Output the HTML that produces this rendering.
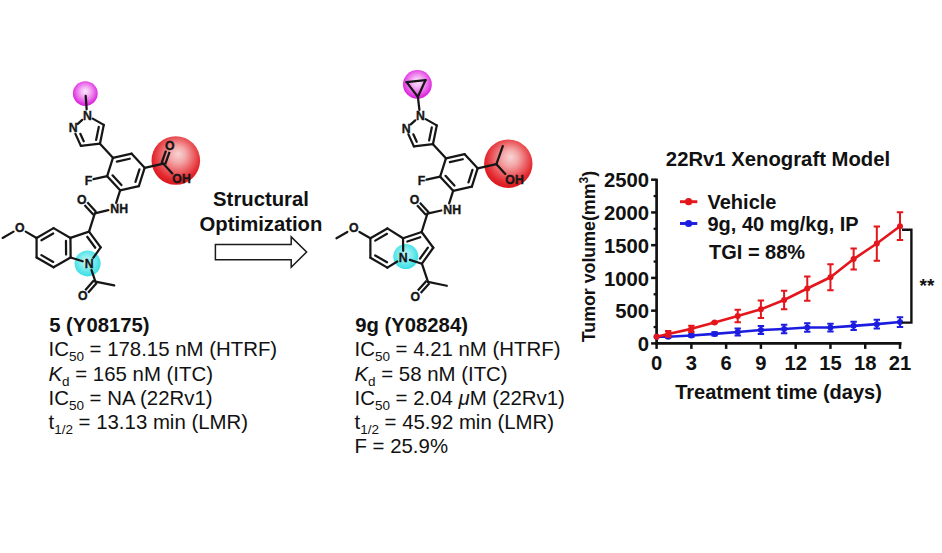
<!DOCTYPE html>
<html><head><meta charset="utf-8"><style>
html,body{margin:0;padding:0;background:#fff;}
body{width:942px;height:553px;overflow:hidden;position:relative;}
svg{position:absolute;left:0;top:0;}
text{font-family:"Liberation Sans",sans-serif;}
</style></head><body>
<svg width="942" height="553" viewBox="0 0 942 553">
<defs>
<radialGradient id="gm" cx="0.5" cy="0.45" r="0.55" fx="0.5" fy="0.4"><stop offset="0" stop-color="#fbe6fb"/><stop offset="0.3" stop-color="#f5b8f5"/><stop offset="0.65" stop-color="#ea6cea"/><stop offset="0.88" stop-color="#e032e0"/><stop offset="1" stop-color="#d81ed8"/></radialGradient>
<radialGradient id="gr" cx="0.52" cy="0.42" r="0.56" fx="0.55" fy="0.36"><stop offset="0" stop-color="#f8d4d4"/><stop offset="0.3" stop-color="#f3a8a8"/><stop offset="0.62" stop-color="#eb5e62"/><stop offset="0.86" stop-color="#e32a30"/><stop offset="1" stop-color="#dc1a20"/></radialGradient>
<radialGradient id="gc" cx="0.48" cy="0.45" r="0.56" fx="0.46" fy="0.42"><stop offset="0" stop-color="#c8f7f7"/><stop offset="0.35" stop-color="#98eff1"/><stop offset="0.7" stop-color="#5ee6ea"/><stop offset="1" stop-color="#36dee6"/></radialGradient>
</defs>
<circle cx="85.30" cy="93.60" r="12.40" fill="url(#gm)"/>
<circle cx="175.80" cy="160.50" r="24.30" fill="url(#gr)"/>
<circle cx="87.60" cy="263.40" r="13.00" fill="url(#gc)"/>
<line x1="112.93" y1="157.84" x2="131.67" y2="153.69" stroke="#161616" stroke-width="2.25" stroke-linecap="round"/>
<line x1="131.67" y1="153.69" x2="144.64" y2="167.84" stroke="#161616" stroke-width="2.25" stroke-linecap="round"/>
<line x1="144.64" y1="167.84" x2="138.87" y2="186.16" stroke="#161616" stroke-width="2.25" stroke-linecap="round"/>
<line x1="138.87" y1="186.16" x2="120.13" y2="190.31" stroke="#161616" stroke-width="2.25" stroke-linecap="round"/>
<line x1="120.13" y1="190.31" x2="107.16" y2="176.16" stroke="#161616" stroke-width="2.25" stroke-linecap="round"/>
<line x1="107.16" y1="176.16" x2="112.93" y2="157.84" stroke="#161616" stroke-width="2.25" stroke-linecap="round"/>
<line x1="116.83" y1="161.59" x2="129.72" y2="158.73" stroke="#161616" stroke-width="2.25" stroke-linecap="round"/>
<line x1="139.45" y1="169.35" x2="135.48" y2="181.94" stroke="#161616" stroke-width="2.25" stroke-linecap="round"/>
<line x1="121.42" y1="185.06" x2="112.50" y2="175.33" stroke="#161616" stroke-width="2.25" stroke-linecap="round"/>
<line x1="112.93" y1="157.84" x2="99.96" y2="143.69" stroke="#161616" stroke-width="2.25" stroke-linecap="round"/>
<line x1="99.96" y1="143.69" x2="103.79" y2="124.87" stroke="#161616" stroke-width="2.25" stroke-linecap="round"/>
<line x1="96.15" y1="139.85" x2="98.78" y2="126.92" stroke="#161616" stroke-width="2.25" stroke-linecap="round"/>
<line x1="92.73" y1="118.62" x2="103.79" y2="124.87" stroke="#161616" stroke-width="2.25" stroke-linecap="round"/>
<line x1="82.21" y1="119.88" x2="77.78" y2="123.93" stroke="#161616" stroke-width="2.25" stroke-linecap="round"/>
<line x1="75.41" y1="133.85" x2="80.88" y2="145.86" stroke="#161616" stroke-width="2.25" stroke-linecap="round"/>
<line x1="80.33" y1="133.80" x2="83.73" y2="141.27" stroke="#161616" stroke-width="2.25" stroke-linecap="round"/>
<line x1="80.88" y1="145.86" x2="99.96" y2="143.69" stroke="#161616" stroke-width="2.25" stroke-linecap="round"/>
<text x="87.37" y="119.85" font-size="12.3" font-weight="bold" text-anchor="middle" fill="#161616" stroke="#161616" stroke-width="0.35" >N</text>
<text x="73.32" y="132.22" font-size="12.3" font-weight="bold" text-anchor="middle" fill="#161616" stroke="#161616" stroke-width="0.35" >N</text>
<line x1="86.66" y1="109.43" x2="85.71" y2="95.97" stroke="#161616" stroke-width="2.25" stroke-linecap="round"/>
<line x1="144.64" y1="167.84" x2="163.39" y2="163.69" stroke="#161616" stroke-width="2.25" stroke-linecap="round"/>
<line x1="161.60" y1="163.05" x2="166.00" y2="150.61" stroke="#161616" stroke-width="2.25" stroke-linecap="butt"/>
<line x1="165.18" y1="164.32" x2="169.59" y2="151.88" stroke="#161616" stroke-width="2.25" stroke-linecap="butt"/>
<text x="169.80" y="150.02" font-size="12.3" font-weight="bold" text-anchor="middle" fill="#161616" stroke="#161616" stroke-width="0.35" >O</text>
<line x1="163.39" y1="163.69" x2="172.31" y2="173.42" stroke="#161616" stroke-width="2.25" stroke-linecap="round"/>
<text x="181.56" y="183.07" font-size="12.3" font-weight="bold" text-anchor="middle" fill="#161616" stroke="#161616" stroke-width="0.35" >OH</text>
<line x1="107.16" y1="176.16" x2="93.49" y2="179.19" stroke="#161616" stroke-width="2.25" stroke-linecap="round"/>
<text x="88.41" y="184.74" font-size="12.3" font-weight="bold" text-anchor="middle" fill="#161616" stroke="#161616" stroke-width="0.35" >F</text>
<line x1="120.13" y1="190.31" x2="116.16" y2="202.90" stroke="#161616" stroke-width="2.25" stroke-linecap="round"/>
<text x="119.25" y="213.05" font-size="12.3" font-weight="bold" text-anchor="middle" fill="#161616" stroke="#161616" stroke-width="0.35" >NH</text>
<line x1="108.33" y1="210.09" x2="94.81" y2="213.38" stroke="#161616" stroke-width="2.25" stroke-linecap="round"/>
<line x1="93.41" y1="214.66" x2="84.49" y2="204.93" stroke="#161616" stroke-width="2.25" stroke-linecap="butt"/>
<line x1="96.21" y1="212.09" x2="87.29" y2="202.36" stroke="#161616" stroke-width="2.25" stroke-linecap="butt"/>
<text x="81.84" y="203.65" font-size="12.3" font-weight="bold" text-anchor="middle" fill="#161616" stroke="#161616" stroke-width="0.35" >O</text>
<line x1="94.81" y1="213.38" x2="89.03" y2="231.69" stroke="#161616" stroke-width="2.25" stroke-linecap="round"/>
<line x1="89.03" y1="231.69" x2="100.69" y2="247.45" stroke="#161616" stroke-width="2.25" stroke-linecap="round"/>
<line x1="87.20" y1="236.78" x2="95.29" y2="247.71" stroke="#161616" stroke-width="2.25" stroke-linecap="round"/>
<line x1="100.69" y1="247.45" x2="93.38" y2="257.70" stroke="#161616" stroke-width="2.25" stroke-linecap="round"/>
<line x1="70.62" y1="257.51" x2="82.64" y2="261.30" stroke="#161616" stroke-width="2.25" stroke-linecap="round"/>
<line x1="70.45" y1="237.91" x2="89.03" y2="231.69" stroke="#161616" stroke-width="2.25" stroke-linecap="round"/>
<line x1="70.45" y1="237.91" x2="70.62" y2="257.51" stroke="#161616" stroke-width="2.25" stroke-linecap="round"/>
<line x1="65.97" y1="240.95" x2="66.09" y2="254.55" stroke="#161616" stroke-width="2.25" stroke-linecap="round"/>
<line x1="70.62" y1="257.51" x2="53.56" y2="267.31" stroke="#161616" stroke-width="2.25" stroke-linecap="round"/>
<line x1="53.56" y1="267.31" x2="36.58" y2="257.51" stroke="#161616" stroke-width="2.25" stroke-linecap="round"/>
<line x1="53.21" y1="261.91" x2="41.43" y2="255.11" stroke="#161616" stroke-width="2.25" stroke-linecap="round"/>
<line x1="36.58" y1="257.51" x2="36.58" y2="237.91" stroke="#161616" stroke-width="2.25" stroke-linecap="round"/>
<line x1="36.58" y1="237.91" x2="53.56" y2="228.11" stroke="#161616" stroke-width="2.25" stroke-linecap="round"/>
<line x1="41.43" y1="240.31" x2="53.21" y2="233.51" stroke="#161616" stroke-width="2.25" stroke-linecap="round"/>
<line x1="53.56" y1="228.11" x2="70.45" y2="237.91" stroke="#161616" stroke-width="2.25" stroke-linecap="round"/>
<text x="89.31" y="267.83" font-size="12.3" font-weight="bold" text-anchor="middle" fill="#161616" stroke="#161616" stroke-width="0.35" >N</text>
<line x1="36.58" y1="237.91" x2="25.67" y2="231.61" stroke="#161616" stroke-width="2.25" stroke-linecap="round"/>
<text x="19.91" y="232.14" font-size="12.3" font-weight="bold" text-anchor="middle" fill="#161616" stroke="#161616" stroke-width="0.35" >O</text>
<line x1="13.55" y1="231.61" x2="2.64" y2="237.91" stroke="#161616" stroke-width="2.25" stroke-linecap="round"/>
<line x1="91.53" y1="270.04" x2="95.40" y2="281.61" stroke="#161616" stroke-width="2.25" stroke-linecap="round"/>
<line x1="96.83" y1="282.87" x2="88.08" y2="292.76" stroke="#161616" stroke-width="2.25" stroke-linecap="butt"/>
<line x1="93.98" y1="280.35" x2="85.23" y2="290.24" stroke="#161616" stroke-width="2.25" stroke-linecap="butt"/>
<text x="82.68" y="300.42" font-size="12.3" font-weight="bold" text-anchor="middle" fill="#161616" stroke="#161616" stroke-width="0.35" >O</text>
<line x1="95.40" y1="281.61" x2="114.22" y2="285.44" stroke="#161616" stroke-width="2.25" stroke-linecap="round"/>
<circle cx="417.40" cy="84.40" r="14.40" fill="url(#gm)"/>
<circle cx="508.30" cy="163.70" r="24.20" fill="url(#gr)"/>
<circle cx="405.80" cy="256.60" r="12.50" fill="url(#gc)"/>
<line x1="445.93" y1="158.34" x2="464.67" y2="154.19" stroke="#161616" stroke-width="2.25" stroke-linecap="round"/>
<line x1="464.67" y1="154.19" x2="477.64" y2="168.34" stroke="#161616" stroke-width="2.25" stroke-linecap="round"/>
<line x1="477.64" y1="168.34" x2="471.87" y2="186.66" stroke="#161616" stroke-width="2.25" stroke-linecap="round"/>
<line x1="471.87" y1="186.66" x2="453.13" y2="190.81" stroke="#161616" stroke-width="2.25" stroke-linecap="round"/>
<line x1="453.13" y1="190.81" x2="440.16" y2="176.66" stroke="#161616" stroke-width="2.25" stroke-linecap="round"/>
<line x1="440.16" y1="176.66" x2="445.93" y2="158.34" stroke="#161616" stroke-width="2.25" stroke-linecap="round"/>
<line x1="449.83" y1="162.09" x2="462.72" y2="159.23" stroke="#161616" stroke-width="2.25" stroke-linecap="round"/>
<line x1="472.45" y1="169.85" x2="468.48" y2="182.44" stroke="#161616" stroke-width="2.25" stroke-linecap="round"/>
<line x1="454.42" y1="185.56" x2="445.50" y2="175.83" stroke="#161616" stroke-width="2.25" stroke-linecap="round"/>
<line x1="445.93" y1="158.34" x2="432.96" y2="144.19" stroke="#161616" stroke-width="2.25" stroke-linecap="round"/>
<line x1="432.96" y1="144.19" x2="436.79" y2="125.37" stroke="#161616" stroke-width="2.25" stroke-linecap="round"/>
<line x1="429.15" y1="140.35" x2="431.78" y2="127.42" stroke="#161616" stroke-width="2.25" stroke-linecap="round"/>
<line x1="425.73" y1="119.12" x2="436.79" y2="125.37" stroke="#161616" stroke-width="2.25" stroke-linecap="round"/>
<line x1="415.21" y1="120.38" x2="410.78" y2="124.43" stroke="#161616" stroke-width="2.25" stroke-linecap="round"/>
<line x1="408.41" y1="134.35" x2="413.88" y2="146.36" stroke="#161616" stroke-width="2.25" stroke-linecap="round"/>
<line x1="413.33" y1="134.30" x2="416.73" y2="141.77" stroke="#161616" stroke-width="2.25" stroke-linecap="round"/>
<line x1="413.88" y1="146.36" x2="432.96" y2="144.19" stroke="#161616" stroke-width="2.25" stroke-linecap="round"/>
<text x="420.37" y="120.35" font-size="12.3" font-weight="bold" text-anchor="middle" fill="#161616" stroke="#161616" stroke-width="0.35" >N</text>
<text x="406.32" y="132.72" font-size="12.3" font-weight="bold" text-anchor="middle" fill="#161616" stroke="#161616" stroke-width="0.35" >N</text>
<line x1="419.40" y1="109.96" x2="417.90" y2="96.84" stroke="#161616" stroke-width="2.25" stroke-linecap="round"/>
<line x1="417.90" y1="96.84" x2="406.58" y2="82.09" stroke="#161616" stroke-width="2.25" stroke-linecap="round"/>
<line x1="406.58" y1="82.09" x2="425.53" y2="80.10" stroke="#161616" stroke-width="2.25" stroke-linecap="round"/>
<line x1="425.53" y1="80.10" x2="417.90" y2="96.84" stroke="#161616" stroke-width="2.25" stroke-linecap="round"/>
<line x1="477.64" y1="168.34" x2="496.39" y2="164.19" stroke="#161616" stroke-width="2.25" stroke-linecap="round"/>
<line x1="496.39" y1="164.19" x2="502.80" y2="146.09" stroke="#161616" stroke-width="2.25" stroke-linecap="round"/>
<line x1="496.39" y1="164.19" x2="505.31" y2="173.92" stroke="#161616" stroke-width="2.25" stroke-linecap="round"/>
<text x="514.56" y="183.57" font-size="12.3" font-weight="bold" text-anchor="middle" fill="#161616" stroke="#161616" stroke-width="0.35" >OH</text>
<line x1="440.16" y1="176.66" x2="426.49" y2="179.69" stroke="#161616" stroke-width="2.25" stroke-linecap="round"/>
<text x="421.41" y="185.24" font-size="12.3" font-weight="bold" text-anchor="middle" fill="#161616" stroke="#161616" stroke-width="0.35" >F</text>
<line x1="453.13" y1="190.81" x2="449.16" y2="203.40" stroke="#161616" stroke-width="2.25" stroke-linecap="round"/>
<text x="452.25" y="213.55" font-size="12.3" font-weight="bold" text-anchor="middle" fill="#161616" stroke="#161616" stroke-width="0.35" >NH</text>
<line x1="441.31" y1="210.50" x2="427.41" y2="213.68" stroke="#161616" stroke-width="2.25" stroke-linecap="round"/>
<line x1="426.01" y1="214.96" x2="417.09" y2="205.23" stroke="#161616" stroke-width="2.25" stroke-linecap="butt"/>
<line x1="428.81" y1="212.39" x2="419.89" y2="202.66" stroke="#161616" stroke-width="2.25" stroke-linecap="butt"/>
<text x="414.44" y="203.95" font-size="12.3" font-weight="bold" text-anchor="middle" fill="#161616" stroke="#161616" stroke-width="0.35" >O</text>
<line x1="427.41" y1="213.68" x2="421.63" y2="231.99" stroke="#161616" stroke-width="2.25" stroke-linecap="round"/>
<line x1="421.63" y1="231.99" x2="433.29" y2="247.75" stroke="#161616" stroke-width="2.25" stroke-linecap="round"/>
<line x1="433.29" y1="247.75" x2="421.91" y2="263.70" stroke="#161616" stroke-width="2.25" stroke-linecap="round"/>
<line x1="427.89" y1="247.57" x2="419.99" y2="258.65" stroke="#161616" stroke-width="2.25" stroke-linecap="round"/>
<line x1="421.91" y1="263.70" x2="409.89" y2="259.91" stroke="#161616" stroke-width="2.25" stroke-linecap="round"/>
<line x1="403.05" y1="238.21" x2="403.16" y2="250.81" stroke="#161616" stroke-width="2.25" stroke-linecap="round"/>
<line x1="403.05" y1="238.21" x2="421.63" y2="231.99" stroke="#161616" stroke-width="2.25" stroke-linecap="round"/>
<line x1="407.32" y1="241.52" x2="420.22" y2="237.21" stroke="#161616" stroke-width="2.25" stroke-linecap="round"/>
<line x1="397.26" y1="261.49" x2="387.36" y2="267.61" stroke="#161616" stroke-width="2.25" stroke-linecap="round"/>
<line x1="387.36" y1="267.61" x2="370.38" y2="257.81" stroke="#161616" stroke-width="2.25" stroke-linecap="round"/>
<line x1="387.01" y1="262.21" x2="375.23" y2="255.41" stroke="#161616" stroke-width="2.25" stroke-linecap="round"/>
<line x1="370.38" y1="257.81" x2="370.38" y2="238.21" stroke="#161616" stroke-width="2.25" stroke-linecap="round"/>
<line x1="370.38" y1="238.21" x2="387.36" y2="228.41" stroke="#161616" stroke-width="2.25" stroke-linecap="round"/>
<line x1="375.23" y1="240.61" x2="387.01" y2="233.81" stroke="#161616" stroke-width="2.25" stroke-linecap="round"/>
<line x1="387.36" y1="228.41" x2="403.05" y2="238.21" stroke="#161616" stroke-width="2.25" stroke-linecap="round"/>
<text x="403.22" y="262.24" font-size="12.3" font-weight="bold" text-anchor="middle" fill="#161616" stroke="#161616" stroke-width="0.35" >N</text>
<line x1="370.38" y1="238.21" x2="359.47" y2="231.91" stroke="#161616" stroke-width="2.25" stroke-linecap="round"/>
<text x="353.71" y="232.44" font-size="12.3" font-weight="bold" text-anchor="middle" fill="#161616" stroke="#161616" stroke-width="0.35" >O</text>
<line x1="347.35" y1="231.91" x2="336.44" y2="238.21" stroke="#161616" stroke-width="2.25" stroke-linecap="round"/>
<line x1="421.91" y1="263.70" x2="428.00" y2="281.91" stroke="#161616" stroke-width="2.25" stroke-linecap="round"/>
<line x1="429.43" y1="283.17" x2="420.68" y2="293.06" stroke="#161616" stroke-width="2.25" stroke-linecap="butt"/>
<line x1="426.58" y1="280.65" x2="417.83" y2="290.54" stroke="#161616" stroke-width="2.25" stroke-linecap="butt"/>
<text x="415.28" y="300.72" font-size="12.3" font-weight="bold" text-anchor="middle" fill="#161616" stroke="#161616" stroke-width="0.35" >O</text>
<line x1="428.00" y1="281.91" x2="446.82" y2="285.74" stroke="#161616" stroke-width="2.25" stroke-linecap="round"/>
<text x="49.2" y="331.9" font-size="20.3" font-weight="bold" text-anchor="start" fill="#111" >5 (Y08175)</text>
<text x="48.5" y="356.2" font-size="20.4" fill="#111">IC<tspan font-size="13.5" dy="5">50</tspan><tspan dy="-5"> = 178.15 nM (HTRF)</tspan></text>
<text x="48.5" y="380.5" font-size="20.4" fill="#111"><tspan font-style="italic">K</tspan><tspan font-size="13.5" dy="5">d</tspan><tspan dy="-5"> = 165 nM (ITC)</tspan></text>
<text x="48.5" y="404.8" font-size="20.4" fill="#111">IC<tspan font-size="13.5" dy="5">50</tspan><tspan dy="-5"> = NA (22Rv1)</tspan></text>
<text x="48.5" y="428.9" font-size="20.4" fill="#111">t<tspan font-size="13.5" dy="5">1/2</tspan><tspan dy="-5"> = 13.13 min (LMR)</tspan></text>
<text x="355.2" y="331.9" font-size="20.3" font-weight="bold" text-anchor="start" fill="#111" >9g (Y08284)</text>
<text x="354.5" y="356.2" font-size="20.4" fill="#111">IC<tspan font-size="13.5" dy="5">50</tspan><tspan dy="-5"> = 4.21 nM (HTRF)</tspan></text>
<text x="354.5" y="380.5" font-size="20.4" fill="#111"><tspan font-style="italic">K</tspan><tspan font-size="13.5" dy="5">d</tspan><tspan dy="-5"> = 58 nM (ITC)</tspan></text>
<text x="354.5" y="404.8" font-size="20.4" fill="#111">IC<tspan font-size="13.5" dy="5">50</tspan><tspan dy="-5"> = 2.04 <tspan font-style="italic">μ</tspan>M (22Rv1)</tspan></text>
<text x="354.5" y="428.9" font-size="20.4" fill="#111">t<tspan font-size="13.5" dy="5">1/2</tspan><tspan dy="-5"> = 45.92 min (LMR)</tspan></text>
<text x="354.5" y="452.5" font-size="20.4" fill="#111">F = 25.9%</text>
<text x="261" y="206.2" font-size="20.3" font-weight="bold" text-anchor="middle" fill="#111" >Structural</text>
<text x="261" y="231.2" font-size="20.3" font-weight="bold" text-anchor="middle" fill="#111" >Optimization</text>
<path d="M215.4,244.5 H291.2 V236.9 L306.6,252 L291.2,267.3 V259.7 H215.4 Z" fill="#fff" stroke="#1a1a1a" stroke-width="1.5"/>
<line x1="656.6" y1="178.7" x2="656.6" y2="344.7" stroke="#111" stroke-width="2.7"/>
<line x1="655.3000000000001" y1="343.4" x2="901.5" y2="343.4" stroke="#111" stroke-width="2.6"/>
<line x1="651.1" y1="343.40" x2="656.6" y2="343.40" stroke="#111" stroke-width="2.5"/>
<text x="649" y="351.00" font-size="20.3" font-weight="bold" text-anchor="end" fill="#111" >0</text>
<line x1="651.1" y1="310.66" x2="656.6" y2="310.66" stroke="#111" stroke-width="2.5"/>
<text x="649" y="318.26" font-size="20.3" font-weight="bold" text-anchor="end" fill="#111" >500</text>
<line x1="651.1" y1="277.92" x2="656.6" y2="277.92" stroke="#111" stroke-width="2.5"/>
<text x="649" y="285.52" font-size="20.3" font-weight="bold" text-anchor="end" fill="#111" >1000</text>
<line x1="651.1" y1="245.18" x2="656.6" y2="245.18" stroke="#111" stroke-width="2.5"/>
<text x="649" y="252.78" font-size="20.3" font-weight="bold" text-anchor="end" fill="#111" >1500</text>
<line x1="651.1" y1="212.44" x2="656.6" y2="212.44" stroke="#111" stroke-width="2.5"/>
<text x="649" y="220.04" font-size="20.3" font-weight="bold" text-anchor="end" fill="#111" >2000</text>
<line x1="651.1" y1="179.70" x2="656.6" y2="179.70" stroke="#111" stroke-width="2.5"/>
<text x="649" y="187.30" font-size="20.3" font-weight="bold" text-anchor="end" fill="#111" >2500</text>
<line x1="653.6" y1="327.03" x2="656.6" y2="327.03" stroke="#111" stroke-width="2.3"/>
<line x1="653.6" y1="294.29" x2="656.6" y2="294.29" stroke="#111" stroke-width="2.3"/>
<line x1="653.6" y1="261.55" x2="656.6" y2="261.55" stroke="#111" stroke-width="2.3"/>
<line x1="653.6" y1="228.81" x2="656.6" y2="228.81" stroke="#111" stroke-width="2.3"/>
<line x1="653.6" y1="196.07" x2="656.6" y2="196.07" stroke="#111" stroke-width="2.3"/>
<line x1="656.60" y1="343.4" x2="656.60" y2="348.9" stroke="#111" stroke-width="2.5"/>
<text x="656.60" y="369.6" font-size="20.2" font-weight="bold" text-anchor="middle" fill="#111" >0</text>
<line x1="691.37" y1="343.4" x2="691.37" y2="348.9" stroke="#111" stroke-width="2.5"/>
<text x="691.37" y="369.6" font-size="20.2" font-weight="bold" text-anchor="middle" fill="#111" >3</text>
<line x1="726.14" y1="343.4" x2="726.14" y2="348.9" stroke="#111" stroke-width="2.5"/>
<text x="726.14" y="369.6" font-size="20.2" font-weight="bold" text-anchor="middle" fill="#111" >6</text>
<line x1="760.91" y1="343.4" x2="760.91" y2="348.9" stroke="#111" stroke-width="2.5"/>
<text x="760.91" y="369.6" font-size="20.2" font-weight="bold" text-anchor="middle" fill="#111" >9</text>
<line x1="795.69" y1="343.4" x2="795.69" y2="348.9" stroke="#111" stroke-width="2.5"/>
<text x="795.69" y="369.6" font-size="20.2" font-weight="bold" text-anchor="middle" fill="#111" >12</text>
<line x1="830.46" y1="343.4" x2="830.46" y2="348.9" stroke="#111" stroke-width="2.5"/>
<text x="830.46" y="369.6" font-size="20.2" font-weight="bold" text-anchor="middle" fill="#111" >15</text>
<line x1="865.23" y1="343.4" x2="865.23" y2="348.9" stroke="#111" stroke-width="2.5"/>
<text x="865.23" y="369.6" font-size="20.2" font-weight="bold" text-anchor="middle" fill="#111" >18</text>
<line x1="900.00" y1="343.4" x2="900.00" y2="348.9" stroke="#111" stroke-width="2.5"/>
<text x="900.00" y="369.6" font-size="20.2" font-weight="bold" text-anchor="middle" fill="#111" >21</text>
<text x="778.5" y="399.3" font-size="20" font-weight="bold" text-anchor="middle" fill="#111" >Treatment time (days)</text>
<text x="778" y="166" font-size="20.3" font-weight="bold" text-anchor="middle" fill="#111" >22Rv1 Xenograft Model</text>
<text transform="translate(595.3,256.6) rotate(-90)" font-size="17.8" font-weight="bold" text-anchor="middle" fill="#111">Tumor volume(mm<tspan font-size="12" dy="-7.5">3</tspan><tspan dy="7.5">)</tspan></text>
<polyline points="656.60,336.79 668.19,336.79 691.37,335.54 714.55,333.91 737.73,332.01 760.91,329.98 784.10,328.99 807.28,327.55 830.46,327.55 853.64,325.85 876.82,324.15 900.00,322.05" fill="none" stroke="#1c1ce0" stroke-width="2.6" stroke-linejoin="round"/>
<circle cx="656.60" cy="336.79" r="3.0" fill="#1c1ce0"/>
<path d="M668.19,335.80 V337.77 M664.99,335.80 h6.4 M664.99,337.77 h6.4" stroke="#1c1ce0" stroke-width="2" fill="none"/>
<circle cx="668.19" cy="336.79" r="3.0" fill="#1c1ce0"/>
<path d="M691.37,334.23 V336.85 M688.17,334.23 h6.4 M688.17,336.85 h6.4" stroke="#1c1ce0" stroke-width="2" fill="none"/>
<circle cx="691.37" cy="335.54" r="3.0" fill="#1c1ce0"/>
<path d="M714.55,332.27 V335.54 M711.35,332.27 h6.4 M711.35,335.54 h6.4" stroke="#1c1ce0" stroke-width="2" fill="none"/>
<circle cx="714.55" cy="333.91" r="3.0" fill="#1c1ce0"/>
<path d="M737.73,328.41 V335.61 M734.53,328.41 h6.4 M734.53,335.61 h6.4" stroke="#1c1ce0" stroke-width="2" fill="none"/>
<circle cx="737.73" cy="332.01" r="3.0" fill="#1c1ce0"/>
<path d="M760.91,326.05 V333.91 M757.71,326.05 h6.4 M757.71,333.91 h6.4" stroke="#1c1ce0" stroke-width="2" fill="none"/>
<circle cx="760.91" cy="329.98" r="3.0" fill="#1c1ce0"/>
<path d="M784.10,324.74 V333.25 M780.90,324.74 h6.4 M780.90,333.25 h6.4" stroke="#1c1ce0" stroke-width="2" fill="none"/>
<circle cx="784.10" cy="328.99" r="3.0" fill="#1c1ce0"/>
<path d="M807.28,323.30 V331.81 M804.08,323.30 h6.4 M804.08,331.81 h6.4" stroke="#1c1ce0" stroke-width="2" fill="none"/>
<circle cx="807.28" cy="327.55" r="3.0" fill="#1c1ce0"/>
<path d="M830.46,323.63 V331.48 M827.26,323.63 h6.4 M827.26,331.48 h6.4" stroke="#1c1ce0" stroke-width="2" fill="none"/>
<circle cx="830.46" cy="327.55" r="3.0" fill="#1c1ce0"/>
<path d="M853.64,321.79 V329.91 M850.44,321.79 h6.4 M850.44,329.91 h6.4" stroke="#1c1ce0" stroke-width="2" fill="none"/>
<circle cx="853.64" cy="325.85" r="3.0" fill="#1c1ce0"/>
<path d="M876.82,319.70 V328.60 M873.62,319.70 h6.4 M873.62,328.60 h6.4" stroke="#1c1ce0" stroke-width="2" fill="none"/>
<circle cx="876.82" cy="324.15" r="3.0" fill="#1c1ce0"/>
<path d="M900.00,317.14 V326.96 M896.80,317.14 h6.4 M896.80,326.96 h6.4" stroke="#1c1ce0" stroke-width="2" fill="none"/>
<circle cx="900.00" cy="322.05" r="3.0" fill="#1c1ce0"/>
<polyline points="656.60,336.79 668.19,333.91 691.37,328.86 714.55,322.58 737.73,316.09 760.91,309.22 784.10,299.99 807.28,288.53 830.46,277.27 853.64,259.06 876.82,243.54 900.00,226.19" fill="none" stroke="#e4161c" stroke-width="2.6" stroke-linejoin="round"/>
<circle cx="656.60" cy="336.79" r="3.0" fill="#e4161c"/>
<path d="M668.19,330.96 V336.85 M664.99,330.96 h6.4 M664.99,336.85 h6.4" stroke="#e4161c" stroke-width="2" fill="none"/>
<circle cx="668.19" cy="333.91" r="3.0" fill="#e4161c"/>
<path d="M691.37,325.72 V332.01 M688.17,325.72 h6.4 M688.17,332.01 h6.4" stroke="#e4161c" stroke-width="2" fill="none"/>
<circle cx="691.37" cy="328.86" r="3.0" fill="#e4161c"/>
<path d="M714.55,321.92 V323.23 M711.35,321.92 h6.4 M711.35,323.23 h6.4" stroke="#e4161c" stroke-width="2" fill="none"/>
<circle cx="714.55" cy="322.58" r="3.0" fill="#e4161c"/>
<path d="M737.73,309.87 V322.32 M734.53,309.87 h6.4 M734.53,322.32 h6.4" stroke="#e4161c" stroke-width="2" fill="none"/>
<circle cx="737.73" cy="316.09" r="3.0" fill="#e4161c"/>
<path d="M760.91,300.38 V318.06 M757.71,300.38 h6.4 M757.71,318.06 h6.4" stroke="#e4161c" stroke-width="2" fill="none"/>
<circle cx="760.91" cy="309.22" r="3.0" fill="#e4161c"/>
<path d="M784.10,290.82 V309.15 M780.90,290.82 h6.4 M780.90,309.15 h6.4" stroke="#e4161c" stroke-width="2" fill="none"/>
<circle cx="784.10" cy="299.99" r="3.0" fill="#e4161c"/>
<path d="M807.28,276.41 V300.64 M804.08,276.41 h6.4 M804.08,300.64 h6.4" stroke="#e4161c" stroke-width="2" fill="none"/>
<circle cx="807.28" cy="288.53" r="3.0" fill="#e4161c"/>
<path d="M830.46,264.30 V290.23 M827.26,264.30 h6.4 M827.26,290.23 h6.4" stroke="#e4161c" stroke-width="2" fill="none"/>
<circle cx="830.46" cy="277.27" r="3.0" fill="#e4161c"/>
<path d="M853.64,248.58 V269.54 M850.44,248.58 h6.4 M850.44,269.54 h6.4" stroke="#e4161c" stroke-width="2" fill="none"/>
<circle cx="853.64" cy="259.06" r="3.0" fill="#e4161c"/>
<path d="M876.82,226.39 V260.70 M873.62,226.39 h6.4 M873.62,260.70 h6.4" stroke="#e4161c" stroke-width="2" fill="none"/>
<circle cx="876.82" cy="243.54" r="3.0" fill="#e4161c"/>
<path d="M900.00,212.31 V240.07 M896.80,212.31 h6.4 M896.80,240.07 h6.4" stroke="#e4161c" stroke-width="2" fill="none"/>
<circle cx="900.00" cy="226.19" r="3.0" fill="#e4161c"/>
<line x1="680" y1="201.7" x2="697.3" y2="201.7" stroke="#e4161c" stroke-width="2.9"/><circle cx="688.6" cy="201.7" r="3.6" fill="#e4161c"/>
<line x1="680" y1="223.5" x2="697.3" y2="223.5" stroke="#1c1ce0" stroke-width="2.9"/><circle cx="688.6" cy="223.5" r="3.6" fill="#1c1ce0"/>
<text x="707.5" y="208.8" font-size="20" font-weight="bold" text-anchor="start" fill="#111" >Vehicle</text>
<text x="707.5" y="230.6" font-size="20" font-weight="bold" text-anchor="start" fill="#111" >9g, 40 mg/kg, IP</text>
<text x="709" y="258.8" font-size="20" font-weight="bold" text-anchor="start" fill="#111" >TGI = 88%</text>
<path d="M902,229.7 H911.4 V322.6 H902" fill="none" stroke="#111" stroke-width="2.4"/>
<text x="927" y="292" font-size="19" font-weight="bold" text-anchor="middle" fill="#111" >**</text>
</svg>
</body></html>
